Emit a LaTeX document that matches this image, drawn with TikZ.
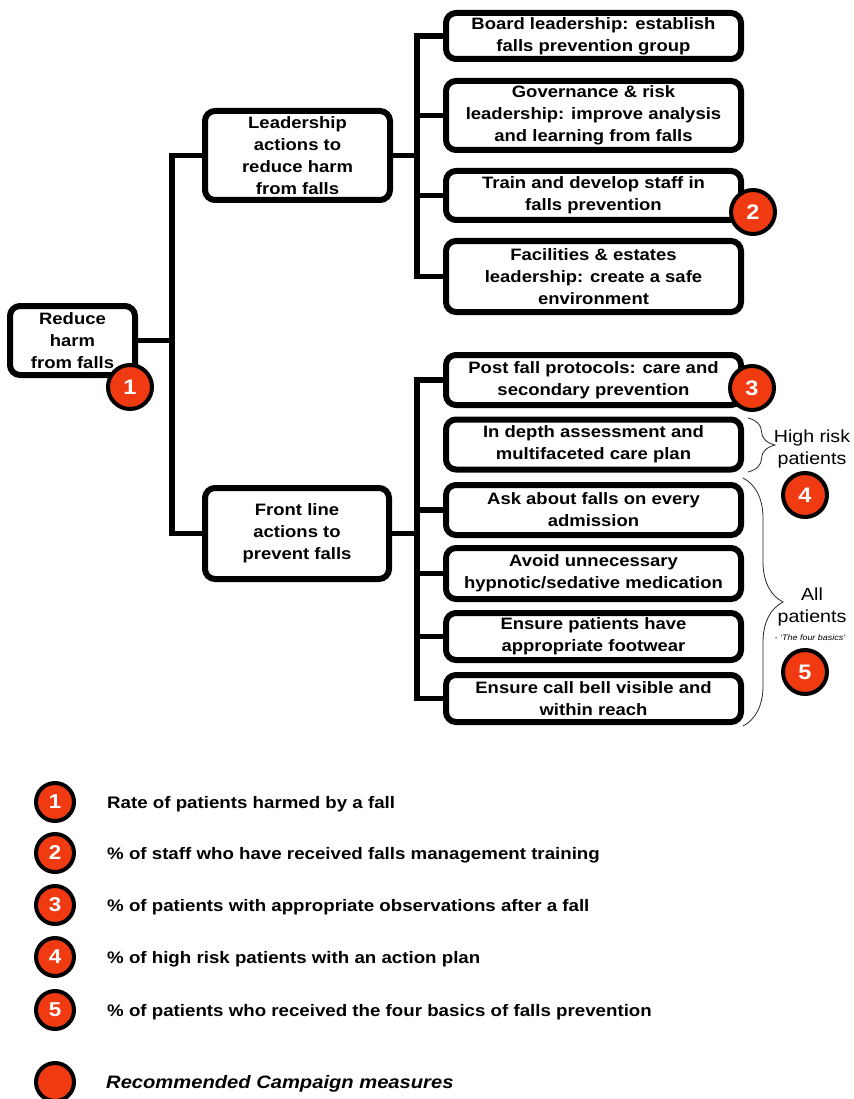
\documentclass[tikz,border=0pt]{standalone}
\usepackage{fontspec}
\setmainfont{Liberation Sans}[FakeStretch=1.12]
\usetikzlibrary{decorations.pathreplacing}
\definecolor{badgered}{RGB}{240,58,18}
\begin{document}
\begin{tikzpicture}[x=1pt,y=-1pt,
  box/.style={draw, line width=6pt, rounded corners=10pt, fill=white, align=center,
    font=\fontsize{16.5}{22}\selectfont\bfseries, inner sep=0pt},
  conn/.style={line width=5.5pt, line join=miter},
  badge/.style={circle, draw, line width=4pt, fill=badgered, text=white,
    font=\fontsize{21}{21}\selectfont\bfseries, minimum size=44pt, inner sep=0pt},
  legbadge/.style={badge, minimum size=38pt, font=\fontsize{20}{20}\selectfont\bfseries},
  legtext/.style={anchor=base west, font=\fontsize{16.7}{20}\selectfont\bfseries, inner sep=0pt},
  side/.style={align=center, font=\fontsize{17.5}{22}\selectfont, inner sep=0pt},
  brc/.style={decorate, line width=0.8pt, black!85},
]
\useasboundingbox (0,0) rectangle (853,1099);

% main boxes
\node[box, minimum width=125pt, minimum height=69pt] (root) at (72.5,340.5) {Reduce\\harm\\from falls};
\node[box, minimum width=185pt, minimum height=89pt] (lead) at (297.5,155.5) {Leadership\\actions to\\reduce harm\\from falls};
\node[box, minimum width=184pt, minimum height=91pt] (front) at (297,533.5) {Front line\\actions to\\prevent falls};

\node[box, minimum width=295pt, minimum height=46pt] (b1) at (593.5,36) {Board leadership: establish\\falls prevention group};
\node[box, minimum width=295pt, minimum height=69pt] (b2) at (593.5,115.5) {Governance \& risk\\leadership: improve analysis\\and learning from falls};
\node[box, minimum width=295pt, minimum height=49pt] (b3) at (593.5,195.5) {Train and develop staff in\\falls prevention};
\node[box, minimum width=295pt, minimum height=71pt] (b4) at (593.5,276.5) {Facilities \& estates\\leadership: create a safe\\environment};

\node[box, minimum width=295pt, minimum height=50pt] (b5) at (593.5,380) {Post fall protocols: care and\\secondary prevention};
\node[box, minimum width=295pt, minimum height=50pt] (b6) at (593.5,444.5) {In depth assessment and\\multifaceted care plan};
\node[box, minimum width=295pt, minimum height=50pt] (b7) at (593.5,510) {Ask about falls on every\\admission};
\node[box, minimum width=295pt, minimum height=51pt] (b8) at (593.5,573.5) {Avoid unnecessary\\hypnotic/sedative medication};
\node[box, minimum width=295pt, minimum height=47pt] (b9) at (593.5,636.5) {Ensure patients have\\appropriate footwear};
\node[box, minimum width=295pt, minimum height=47pt] (b10) at (593.5,698.5) {Ensure call bell visible and\\within reach};

% connectors
\draw[conn] (root.east) -- ++(34,0) |- (lead.west);
\draw[conn] (root.east) -- ++(34,0) |- (front.west);
\foreach \n in {b1,b2,b3,b4} \draw[conn] (lead.east) -- ++(24,0) |- (\n.west);
\foreach \n in {b5,b7,b8,b9,b10} \draw[conn] (front.east) -- ++(25,0) |- (\n.west);

% badges
\node[badge] (m1) at (130,387) {1};
\node[badge] (m2) at (753,212) {2};
\node[badge] (m3) at (752,388) {3};
\node[badge] (m4) at (805,495) {4};
\node[badge] (m5) at (805,672) {5};

% braces and side labels
\draw[brc, decoration={brace, amplitude=27pt}] (748,418) -- (748,472);
\draw[brc, decoration={brace, amplitude=40pt}] (743,478) -- (743,726);
\node[side] (hr) at (812,448.5) {High risk\\patients};
\node[side] (ap) at (812,607) {All\\patients};
\node[font=\fontsize{8}{9}\selectfont\itshape, inner sep=0pt] (fb) at (810,638) {- ‘The four basics’};

% legend
\foreach \i/\yy/\t in {1/802/Rate of patients harmed by a fall,
                      2/853/\% of staff who have received falls management training,
                      3/905/\% of patients with appropriate observations after a fall,
                      4/957/\% of high risk patients with an action plan,
                      5/1010/\% of patients who received the four basics of falls prevention}{
  \node[legbadge] (l\i) at (55,\yy) {\i};
  \node[legtext] (lt\i) at (107,\yy+6.5) {\t};
}
\node[legbadge] (l6) at (55,1082) {};
\node[legtext, font=\fontsize{18}{20}\selectfont\bfseries\itshape] (lt6) at (106,1088.5) {Recommended Campaign measures};
\end{tikzpicture}
\end{document}
